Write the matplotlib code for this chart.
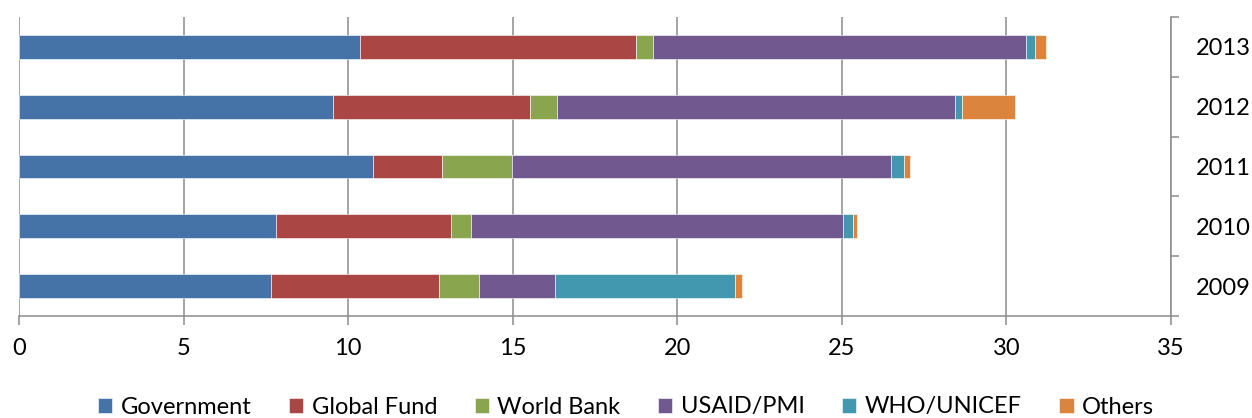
import matplotlib
matplotlib.use("Agg")
import matplotlib.pyplot as plt
import numpy as np
from matplotlib.ticker import MultipleLocator, FixedLocator

years = ["2009", "2010", "2011", "2012", "2013"]
series_names = ["Government", "Global Fund", "World Bank", "USAID/PMI", "WHO/UNICEF", "Others"]
government = [7.67, 7.82, 10.77, 9.53, 10.35]
global_fund = [5.09, 5.31, 2.09, 6.00, 8.41]
world_bank = [1.22, 0.59, 2.13, 0.81, 0.50]
usaid_pmi = [2.30, 11.30, 11.51, 12.10, 11.32]
who_unicef = [5.48, 0.31, 0.39, 0.21, 0.30]
others = [0.22, 0.12, 0.19, 1.60, 0.31]
colors = ["#4572A7", "#AA4643", "#89A54E", "#71588F", "#4198AF", "#DB843D"]

plt.rcParams['font.family'] = ['Lato', 'DejaVu Sans']

W, H = 1252, 418
fig = plt.figure(figsize=(W / 100, H / 100), dpi=100)
ax = fig.add_axes([19 / W, 1 - 316 / H, (1171 - 19) / W, (316 - 17) / H])

y = np.arange(len(years))
left = np.zeros(len(years))
all_series = [government, global_fund, world_bank, usaid_pmi, who_unicef, others]
for name, vals, c in zip(series_names, all_series, colors):
    vals = np.array(vals)
    ax.barh(y, vals, left=left, height=0.4, color=c, label=name,
            edgecolor="white", linewidth=0.4, zorder=3)
    left += vals

ax.set_xlim(0, 35)
ax.set_ylim(-0.5, len(years) - 0.5)
ax.xaxis.set_major_locator(MultipleLocator(5))
ax.grid(axis="x", color="#8c8c8c", linewidth=1.1, zorder=0)
ax.set_axisbelow(True)

for s in ["top", "left"]:
    ax.spines[s].set_visible(False)
ax.spines["bottom"].set_color("#8c8c8c")
ax.spines["bottom"].set_linewidth(1.1)
ax.spines["right"].set_color("#8c8c8c")
ax.spines["right"].set_linewidth(1.1)

ax.tick_params(axis="x", direction="out", length=6.5, width=1.1, color="#8c8c8c",
               labelsize=17, pad=9, labelcolor="black")

ax.yaxis.tick_right()
ax.set_yticks(y)
ax.set_yticklabels(years)
ax.yaxis.set_minor_locator(FixedLocator(np.arange(-0.5, len(years), 1.0)))
ax.tick_params(axis="y", which="major", length=0, labelsize=17, pad=18, labelcolor="black")
ax.tick_params(axis="y", which="minor", direction="out", length=6, width=1.1, color="#8c8c8c")
for lbl in ax.get_yticklabels():
    lbl.set_horizontalalignment("left")

fig.legend(loc="center", bbox_to_anchor=(0.5, 1 - 407 / H), ncol=6, frameon=False,
           fontsize=17, handlelength=0.6, handleheight=0.6, handletextpad=0.35,
           columnspacing=1.6, borderaxespad=0)

fig.savefig("out.png", dpi=100)
